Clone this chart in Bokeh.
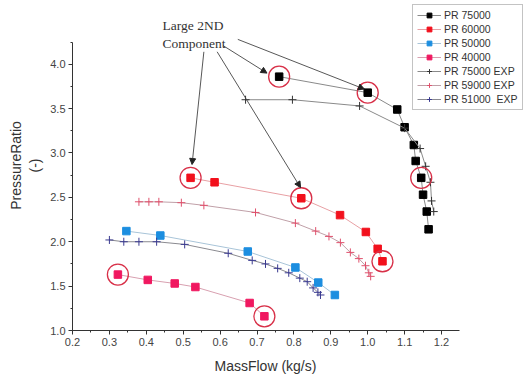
from bokeh.plotting import figure
from bokeh.models import (Legend, LegendItem, Label, Arrow, NormalHead, Title,
                          SingleIntervalTicker, NumeralTickFormatter)
from bokeh.embed import file_html
from bokeh.resources import INLINE

# ---- data ----
pr75_x = [0.76, 1.00, 1.08, 1.10, 1.125, 1.13, 1.145, 1.15, 1.16, 1.165]
pr75_y = [3.86, 3.68, 3.49, 3.29, 3.09, 2.91, 2.72, 2.53, 2.34, 2.14]

pr60_x = [0.52, 0.585, 0.82, 0.925, 0.995, 1.027, 1.04]
pr60_y = [2.72, 2.67, 2.49, 2.30, 2.11, 1.92, 1.78]

pr50_x = [0.346, 0.438, 0.675, 0.804, 0.866, 0.911]
pr50_y = [2.12, 2.07, 1.89, 1.71, 1.54, 1.40]

pr40_x = [0.323, 0.404, 0.477, 0.533, 0.680, 0.720]
pr40_y = [1.63, 1.57, 1.53, 1.49, 1.31, 1.16]

exp75_x = [0.669, 0.796, 0.978, 1.10, 1.142, 1.157, 1.170, 1.173, 1.179]
exp75_y = [3.60, 3.60, 3.53, 3.28, 3.05, 2.85, 2.67, 2.46, 2.34]

exp59_x = [0.380, 0.407, 0.434, 0.495, 0.556, 0.696, 0.804, 0.859, 0.895,
           0.926, 0.953, 0.976, 0.994, 1.003, 1.008]
exp59_y = [2.45, 2.45, 2.45, 2.44, 2.41, 2.33, 2.21, 2.12, 2.06,
           1.99, 1.88, 1.81, 1.73, 1.65, 1.61]

exp51_x = [0.300, 0.339, 0.380, 0.428, 0.504, 0.622, 0.687, 0.723, 0.756,
           0.786, 0.816, 0.836, 0.852, 0.865, 0.872]
exp51_y = [2.02, 2.00, 2.00, 2.00, 1.97, 1.87, 1.79, 1.75, 1.70,
           1.65, 1.59, 1.55, 1.48, 1.43, 1.40]

# circled "large 2nd component" points
circ_x = [0.76, 1.00, 1.145, 0.52, 0.82, 1.04, 0.323, 0.720]
circ_y = [3.86, 3.68, 2.72, 2.72, 2.49, 1.78, 1.63, 1.16]

# annotation arrows (start -> end, data units)
arr_x0 = [0.608, 0.648, 0.556, 0.592]
arr_y0 = [4.21, 4.28, 4.14, 4.14]
arr_x1 = [0.727, 0.991, 0.524, 0.818]
arr_y1 = [3.90, 3.72, 2.87, 2.61]
note_x = [0.444]
note_y = [4.15]
note_text = "Large 2ND\nComponent"

x_axis_bounds = (0.2, 1.25)
y_axis_bounds = (1.0, 4.25)

p = figure(width=525, height=380, output_backend="svg", toolbar_location=None,
           x_range=(0.2, 1.4276), y_range=(1.0, 4.718),
           min_border_left=72, min_border_right=0, min_border_top=0,
           min_border_bottom=48, background_fill_color="white",
           border_fill_color="white")
p.outline_line_color = None
p.xgrid.visible = False
p.ygrid.visible = False

for ax in (p.xaxis[0], p.yaxis[0]):
    ax.axis_line_color = "#333333"
    ax.major_tick_line_color = "#333333"
    ax.minor_tick_line_color = "#333333"
    ax.major_tick_in = 0
    ax.major_tick_out = 4
    ax.minor_tick_in = 0
    ax.minor_tick_out = 2
    ax.major_label_text_font = "Liberation Sans"
    ax.major_label_text_font_size = "11px"
    ax.major_label_text_color = "#444444"
    ax.axis_label_text_font = "Liberation Sans"
    ax.axis_label_text_font_size = "14px"
    ax.axis_label_text_font_style = "normal"
    ax.axis_label_text_color = "#333333"
    ax.formatter = NumeralTickFormatter(format="0.0")

p.xaxis[0].bounds = x_axis_bounds
p.yaxis[0].bounds = y_axis_bounds
p.xaxis[0].ticker = SingleIntervalTicker(interval=0.1, num_minor_ticks=2)
p.yaxis[0].ticker = SingleIntervalTicker(interval=0.5, num_minor_ticks=2)
p.yaxis[0].axis_label = "PressureRatio\n(-)"
p.yaxis[0].axis_label_standoff = 4
p.xaxis[0].major_label_standoff = 3
p.yaxis[0].major_label_standoff = 3

# x-axis title, centred under the bounded axis (not the wider frame)
p.add_layout(Title(text="MassFlow (kg/s)", align="left", offset=142,
                   text_font="Liberation Sans", text_font_size="14px",
                   text_font_style="normal", text_color="#333333",
                   standoff=14), "below")

items = []

def sq_series(xs, ys, color, line_color, label):
    r1 = p.line(xs, ys, line_color=line_color, line_width=1)
    r2 = p.scatter(xs, ys, marker="square", size=7.5, fill_color=color,
                   line_color=color)
    items.append(LegendItem(label=label, renderers=[r1, r2]))

def exp_series(xs, ys, color, line_color, label):
    r1 = p.line(xs, ys, line_color=line_color, line_width=1)
    r2 = p.scatter(xs, ys, marker="cross", size=8, line_color=color,
                   line_width=1)
    items.append(LegendItem(label=label, renderers=[r1, r2]))

sq_series(pr75_x, pr75_y, "black", "#8a8a8a", "PR 75000")
sq_series(pr60_x, pr60_y, "#f2101c", "#e8a0a4", "PR 60000")
sq_series(pr50_x, pr50_y, "#1c8ee0", "#a8c4d8", "PR 50000")
sq_series(pr40_x, pr40_y, "#f01860", "#d8a0b0", "PR 40000")
exp_series(exp75_x, exp75_y, "#333333", "#8a8a8a", "PR 75000 EXP")
exp_series(exp59_x, exp59_y, "#e0506c", "#c0a0a8", "PR 59000 EXP")
exp_series(exp51_x, exp51_y, "#3a3a90", "#8a8a90", "PR 51000  EXP")

p.scatter(circ_x, circ_y, marker="circle", size=21, fill_color=None,
          line_color="#d83048", line_width=1.3)

for x0, y0, x1, y1 in zip(arr_x0, arr_y0, arr_x1, arr_y1):
    p.add_layout(Arrow(end=NormalHead(size=6, fill_color="#222222",
                                      line_color="#222222"),
                       x_start=x0, y_start=y0, x_end=x1, y_end=y1,
                       line_color="#444444", line_width=0.9))

p.add_layout(Label(x=note_x[0], y=note_y[0], text=note_text,
                   text_font="Liberation Serif", text_font_size="13.5px",
                   text_color="#333333", text_align="left",
                   text_baseline="bottom"))

legend = Legend(items=items, location=(340, 220),
                label_text_font="Liberation Sans", label_text_font_size="10.5px",
                label_text_color="#333333", glyph_width=24, glyph_height=12,
                label_height=12, spacing=2, padding=4, margin=0,
                label_standoff=3, border_line_color="#888888",
                border_line_width=1, background_fill_alpha=1.0)
p.add_layout(legend, "center")

open("out.html", "w").write(file_html(p, INLINE))
